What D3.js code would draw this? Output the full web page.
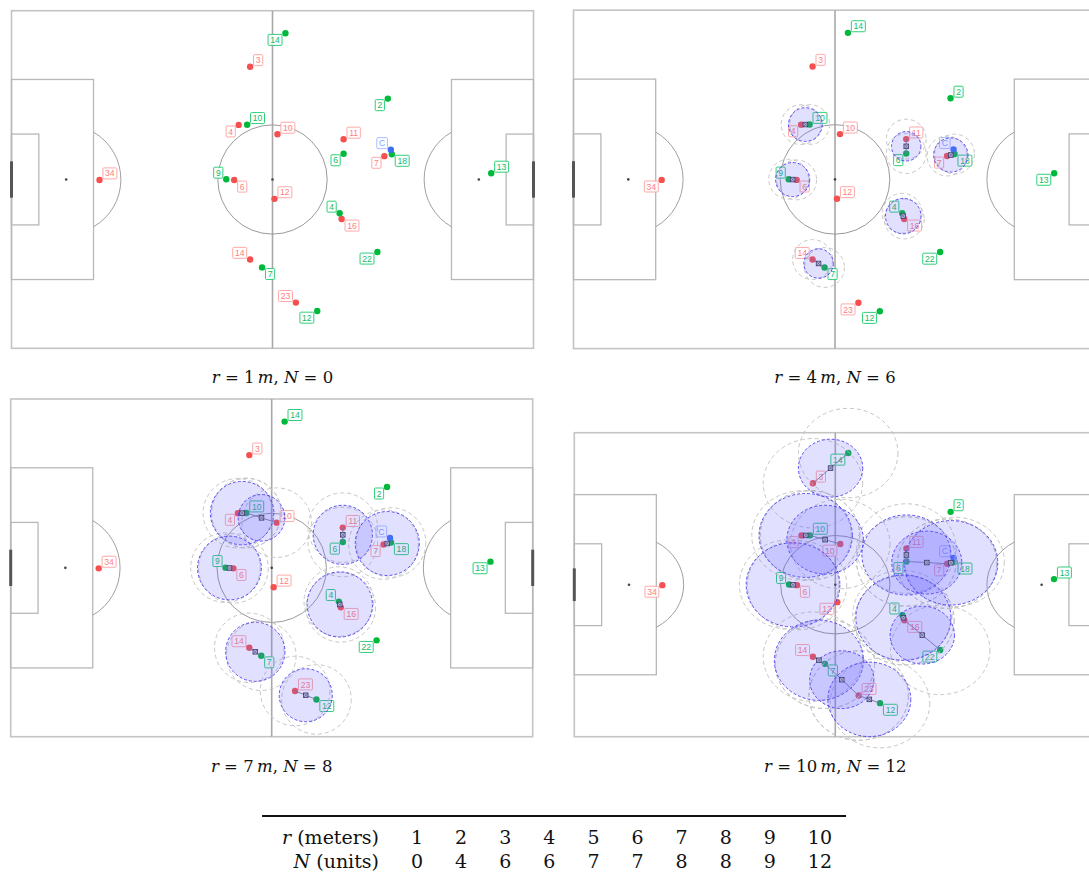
<!DOCTYPE html>
<html>
<head>
<meta charset="utf-8">
<script src="https://cdn.jsdelivr.net/npm/d3@7"></script>
<style>
  html, body { margin: 0; padding: 0; background: #fff; }
  svg { display: block; }
</style>
</head>
<body>
<svg id="fig" width="1089" height="883"></svg>
<script>
// ---- Player positions on a 105 x 68 m pitch ----
// Red team
const redNumbers = [3, 4, 10, 11, 7, 34, 6, 12, 16, 14, 23];
const redX = [48.0, 45.7, 53.5, 66.8, 75.0, 17.7, 44.8, 52.9, 66.4, 48.0, 57.2];
const redY = [11.3, 23.0, 24.9, 25.9, 29.3, 34.1, 34.1, 37.9, 41.95, 50.1, 58.8];
// Green team
const greenNumbers = [14, 2, 10, 6, 18, 9, 13, 4, 22, 7, 12];
const greenX = [55.1, 75.7, 47.4, 66.8, 76.5, 43.2, 96.5, 66.0, 73.6, 50.4, 61.5];
const greenY = [4.55, 17.7, 22.96, 28.8, 28.9, 33.96, 32.75, 40.8, 48.6, 51.7, 60.5];
// Ball
const ballLabel = "C";
const ballX = 76.3;
const ballY = 28.0;

// Radii shown in the four pitch panels
const panelRadii = [1, 4, 7, 10];

// Summary table
const tableR = [1, 2, 3, 4, 5, 6, 7, 8, 9, 10];
const tableN = [0, 4, 6, 6, 7, 7, 8, 8, 9, 12];

// ---- Layout ----
const PITCH_W = 105, PITCH_H = 68;
const panelBoxes = [
  { left: 11.5,  top: 10.7,  width: 522, height: 337.6, capY: 383 },
  { left: 573.5, top: 10.2,  width: 523, height: 338.4, capY: 383 },
  { left: 10.7,  top: 399.0, width: 522, height: 337.7, capY: 772 },
  { left: 574.3, top: 432.7, width: 522, height: 304.0, capY: 772 }
];
// which corner each number tag sits at, per panel
const tagSides = [
  { red:   ["ne","sw","ne","ne","sw","ne","se","ne","se","nw","nw"],
    green: ["sw","sw","ne","sw","se","nw","ne","nw","sw","se","sw"] },
  { red:   ["ne","sw","ne","ne","sw","sw","se","ne","se","nw","sw"],
    green: ["ne","ne","ne","sw","se","nw","sw","nw","sw","se","sw"] },
  { red:   ["ne","sw","ne","ne","sw","ne","se","ne","se","nw","ne"],
    green: ["ne","sw","ne","sw","se","nw","sw","nw","sw","se","se"] },
  { red:   ["ne","sw","sw","ne","sw","sw","se","sw","se","nw","ne"],
    green: ["sw","ne","ne","sw","se","nw","ne","nw","sw","se","se"] }
];

const COLORS = {
  red:   { dot: "#f55050", tagStroke: "#ffa8a8", tagText: "#ff8080" },
  green: { dot: "#00b83a", tagStroke: "#2fcf7a", tagText: "#16bb66" },
  ball:  { dot: "#3d6ff5", tagStroke: "#a9c1ff", tagText: "#7fa3ff" }
};

const svg = d3.select("#fig");

function drawPitch(g, x, y) {
  const kx = x(1) - x(0), ky = y(1) - y(0);
  const line = "#b8b8b8";
  // outer boundary
  g.append("rect")
    .attr("x", x(0)).attr("y", y(0))
    .attr("width", x(PITCH_W) - x(0)).attr("height", y(PITCH_H) - y(0))
    .attr("fill", "#fff").attr("stroke", "#c4c4c4").attr("stroke-width", 1.6);
  // halfway line
  g.append("line")
    .attr("x1", x(52.5)).attr("x2", x(52.5)).attr("y1", y(0)).attr("y2", y(PITCH_H))
    .attr("stroke", "#a8a8a8").attr("stroke-width", 1.6);
  // centre circle + spot
  g.append("ellipse")
    .attr("cx", x(52.5)).attr("cy", y(34)).attr("rx", 11 * kx).attr("ry", 11 * ky)
    .attr("fill", "none").attr("stroke", "#9a9a9a").attr("stroke-width", 1);
  g.append("circle").attr("cx", x(52.5)).attr("cy", y(34)).attr("r", 1.3).attr("fill", "#444");

  [0, 1].forEach(side => {
    const fx = v => side === 0 ? v : PITCH_W - v;
    // penalty area
    g.append("rect")
      .attr("x", Math.min(x(fx(0)), x(fx(16.5)))).attr("y", y(13.85))
      .attr("width", 16.5 * kx).attr("height", 40.3 * ky)
      .attr("fill", "none").attr("stroke", line).attr("stroke-width", 1.3);
    // goal area
    g.append("rect")
      .attr("x", Math.min(x(fx(0)), x(fx(5.5)))).attr("y", y(24.85))
      .attr("width", 5.5 * kx).attr("height", 18.3 * ky)
      .attr("fill", "none").attr("stroke", line).attr("stroke-width", 1.3);
    // penalty spot
    g.append("circle").attr("cx", x(fx(11))).attr("cy", y(34)).attr("r", 1.3).attr("fill", "#444");
    // penalty arc (outside the box)
    const h = Math.sqrt(11 * 11 - 5.5 * 5.5);
    g.append("path")
      .attr("d", `M${x(fx(16.5))},${y(34 - h)} A${11 * kx},${11 * ky} 0 0 ${side === 0 ? 1 : 0} ${x(fx(16.5))},${y(34 + h)}`)
      .attr("fill", "none").attr("stroke", "#a0a0a0").attr("stroke-width", 1);
    // goal
    g.append("line")
      .attr("x1", x(fx(0))).attr("x2", x(fx(0)))
      .attr("y1", y(30.34)).attr("y2", y(37.66))
      .attr("stroke", "#555").attr("stroke-width", 3);
  });
}

function drawTag(g, px, py, text, palette, side) {
  const t = g.append("g");
  const txt = t.append("text")
    .attr("font-family", "'Liberation Sans', Arial, sans-serif")
    .attr("font-size", 8.6)
    .attr("fill", palette.tagText)
    .attr("text-anchor", "middle")
    .text(text);
  const w = txt.node().getComputedTextLength() + 4.4;
  const h = 11;
  const sx = side.includes("e") ? 1 : -1;
  const sy = side.includes("s") ? 1 : -1;
  const cx = px + sx * (w / 2 + 3.4);
  const cy = py + sy * 6.6;
  t.insert("rect", "text")
    .attr("x", cx - w / 2).attr("y", cy - h / 2)
    .attr("width", w).attr("height", h).attr("rx", 1)
    .attr("fill", "#fff").attr("fill-opacity", 0.85)
    .attr("stroke", palette.tagStroke).attr("stroke-width", 1);
  txt.attr("x", cx).attr("y", cy + 3.1);
}

panelBoxes.forEach((box, k) => {
  const r = panelRadii[k];
  const x = d3.scaleLinear().domain([0, PITCH_W]).range([box.left, box.left + box.width]);
  const y = d3.scaleLinear().domain([0, PITCH_H]).range([box.top, box.top + box.height]);
  const kx = x(1) - x(0), ky = y(1) - y(0);
  const g = svg.append("g");

  drawPitch(g, x, y);

  // players
  const layers = g.append("g");
  redNumbers.forEach((n, i) => {
    layers.append("circle").attr("cx", x(redX[i])).attr("cy", y(redY[i])).attr("r", 3.2)
      .attr("fill", COLORS.red.dot);
    drawTag(layers, x(redX[i]), y(redY[i]), n, COLORS.red, tagSides[k].red[i]);
  });
  greenNumbers.forEach((n, i) => {
    layers.append("circle").attr("cx", x(greenX[i])).attr("cy", y(greenY[i])).attr("r", 3.2)
      .attr("fill", COLORS.green.dot);
    drawTag(layers, x(greenX[i]), y(greenY[i]), n, COLORS.green, tagSides[k].green[i]);
  });
  layers.append("circle").attr("cx", x(ballX)).attr("cy", y(ballY)).attr("r", 3.2)
    .attr("fill", COLORS.ball.dot);
  drawTag(layers, x(ballX), y(ballY), ballLabel, COLORS.ball, "nw");

  // opposing pairs closer than r
  const pairs = [];
  redX.forEach((rx, i) => greenX.forEach((gx, j) => {
    const d = Math.hypot(rx - gx, redY[i] - greenY[j]);
    if (d < r) pairs.push({ i, j, d, mx: (rx + gx) / 2, my: (redY[i] + greenY[j]) / 2 });
  }));

  const ring = g.append("g");
  pairs.forEach(p => {
    [[redX[p.i], redY[p.i]], [greenX[p.j], greenY[p.j]]].forEach(([px, py]) => {
      ring.append("ellipse")
        .attr("cx", x(px)).attr("cy", y(py)).attr("rx", r * kx).attr("ry", r * ky)
        .attr("fill", "none").attr("stroke", "#c6c6c6").attr("stroke-width", 1)
        .attr("stroke-dasharray", "4,3");
    });
  });
  const links = g.append("g");
  pairs.forEach(p => {
    links.append("line")
      .attr("x1", x(redX[p.i])).attr("y1", y(redY[p.i]))
      .attr("x2", x(greenX[p.j])).attr("y2", y(greenY[p.j]))
      .attr("stroke", "#7a7a8a").attr("stroke-width", 0.9);
  });
  const zones = g.append("g");
  pairs.forEach(p => {
    const R = r - 0.36 * p.d;
    zones.append("ellipse")
      .attr("cx", x(p.mx)).attr("cy", y(p.my)).attr("rx", R * kx).attr("ry", R * ky)
      .attr("fill", "rgb(105,100,255)").attr("fill-opacity", 0.2)
      .attr("stroke", "#4a3cf0").attr("stroke-opacity", 0.9).attr("stroke-width", 1)
      .attr("stroke-dasharray", "3,2");
  });
  const marks = g.append("g");
  pairs.forEach(p => {
    const cx = x(p.mx), cy = y(p.my), s = 2.3;
    marks.append("rect")
      .attr("x", cx - s).attr("y", cy - s).attr("width", 2 * s).attr("height", 2 * s)
      .attr("fill", "#b4b4dc").attr("stroke", "#3c3c6e").attr("stroke-width", 0.8);
    marks.append("path")
      .attr("d", `M${cx - s},${cy - s}L${cx + s},${cy + s}M${cx + s},${cy - s}L${cx - s},${cy + s}`)
      .attr("stroke", "#3c3c6e").attr("stroke-width", 0.5);
  });

  // caption
  const cap = svg.append("text")
    .attr("x", box.left + box.width / 2).attr("y", box.capY)
    .attr("text-anchor", "middle")
    .attr("font-family", "'DejaVu Serif', serif")
    .attr("font-size", 16.5).attr("fill", "#111");
  const nIdx = tableR.indexOf(r);
  cap.append("tspan").attr("font-style", "italic").text("r");
  cap.append("tspan").text(" = " + r + "\u2009");
  cap.append("tspan").attr("font-style", "italic").text("m");
  cap.append("tspan").text(", ");
  cap.append("tspan").attr("font-style", "italic").text("N");
  cap.append("tspan").text(" = " + tableN[nIdx]);
});

// ---- Summary table ----
const tbl = svg.append("g")
  .attr("font-family", "'DejaVu Serif', serif")
  .attr("font-size", 19).attr("fill", "#111");
const headerRight = 379;
const rowY = [844, 868];
const headers = [["r", " (meters)"], ["N", " (units)"]];
const headerNodes = headers.map((h, ri) => {
  const t = tbl.append("text").attr("x", headerRight).attr("y", rowY[ri]).attr("text-anchor", "end");
  t.append("tspan").attr("font-style", "italic").text(h[0]);
  t.append("tspan").text(h[1]);
  return t;
});
const colGap = 32;
let prevRight = headerRight;
const rows = [tableR, tableN];
tableR.forEach((_, c) => {
  // column width = widest entry
  const widths = rows.map(row => {
    const probe = tbl.append("text").text(row[c]);
    const w = probe.node().getComputedTextLength();
    probe.remove();
    return w;
  });
  const w = Math.max(...widths);
  const cx = prevRight + colGap + w / 2;
  rows.forEach((row, ri) => {
    tbl.append("text").attr("x", cx).attr("y", rowY[ri]).attr("text-anchor", "middle").text(row[c]);
  });
  prevRight = cx + w / 2;
});
const headerLeft = Math.min(...headerNodes.map(n => n.node().getBBox().x));
tbl.append("line")
  .attr("x1", headerLeft - 20).attr("x2", prevRight + 14)
  .attr("y1", 816).attr("y2", 816)
  .attr("stroke", "#111").attr("stroke-width", 2);
</script>
</body>
</html>
